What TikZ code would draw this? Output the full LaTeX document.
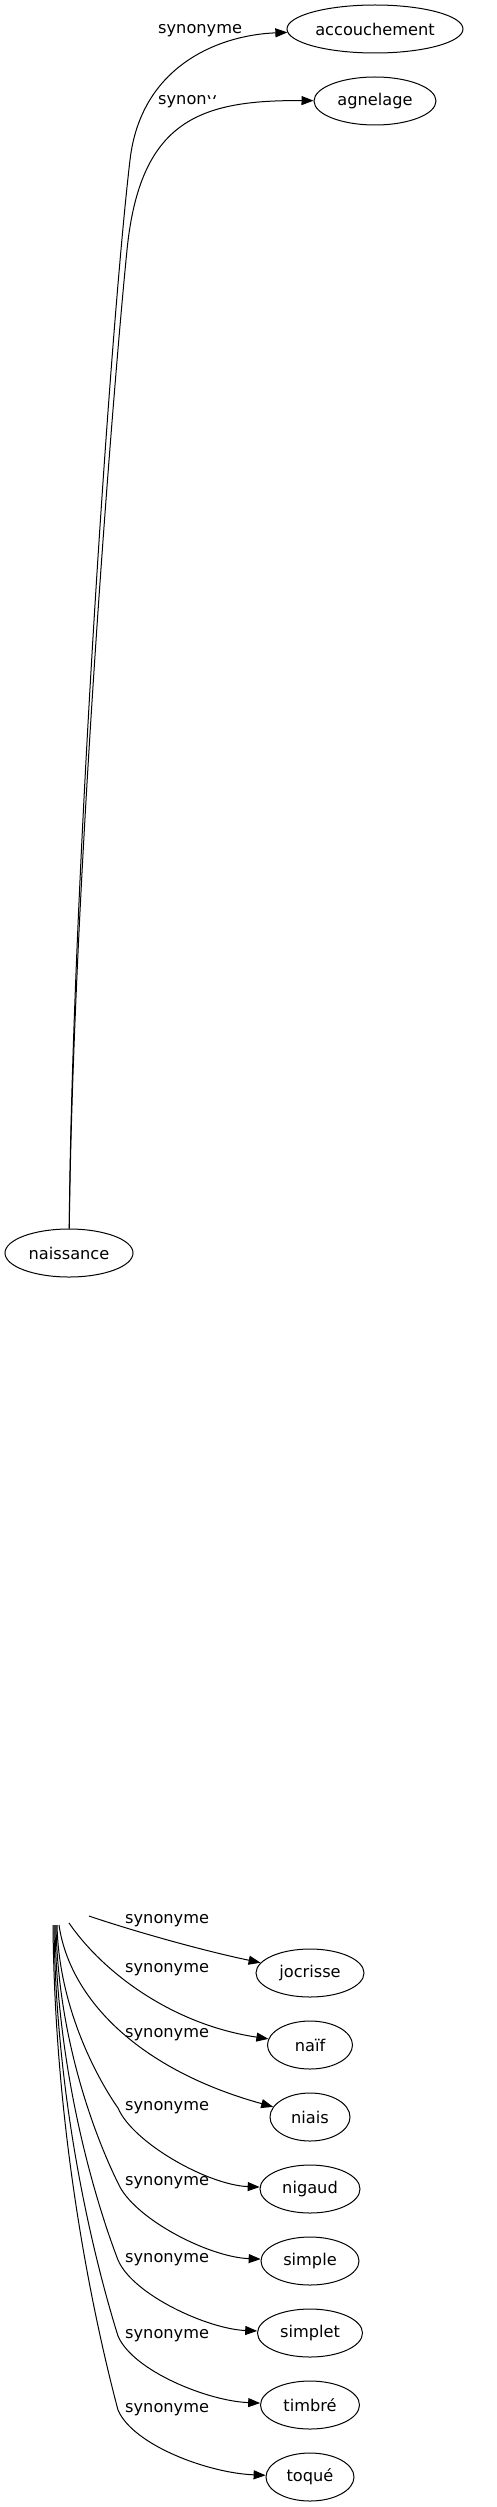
\documentclass[tikz,border=0pt]{standalone}
\usepackage{fontspec}
\setmainfont{DejaVu Sans}
\usetikzlibrary{shapes.geometric,arrows.meta,calc}
\tikzset{
  word/.style={draw, ellipse, line width=1pt, inner sep=0pt, minimum height=48,
    font=\fontsize{16.2}{19}\selectfont},
  lab/.style={inner sep=0pt, anchor=base west, font=\fontsize{16.2}{19}\selectfont},
  edge/.style={line width=1pt, -{Triangle[length=12pt,width=9pt]}},
}
\begin{document}
\begin{tikzpicture}[x=1pt,y=-1pt]
\useasboundingbox (0,0) rectangle (497,2507);
% upper graph
\node[word, minimum width=176] (acc) at (375,29) {accouchement};
\node[word, minimum width=122] (agn) at (375,101) {agnelage};
\node[word, minimum width=128] (nai) at (69,1253) {naissance};
\draw[edge] (nai) .. controls (72,900) and (110,330) .. (130,160)
  .. controls (141,65) and (220,35) .. (acc);
\draw[edge] (nai) .. controls (73,900) and (112,400) .. (127,250)
  .. controls (140,120) and (200,100) .. (agn);
\node[lab] (lacc) at (158,34) {synonyme};
\node[lab] (lagn) at (158,105) {synon};
\begin{scope}
  \clip ($(lagn.base east)+(-0.5,-12)$) rectangle ($(lagn.base east)+(10,-6.5)$);
  \node[lab] (lagny) at (lagn.base east) {y};
\end{scope}
% lower graph
\node[word, minimum width=108] (joc) at (310,1973) {jocrisse};
\node[word, minimum width=85] (naif) at (310,2045) {naïf};
\node[word, minimum width=80] (niais) at (310,2117) {niais};
\coordinate (sjoc) at (89,1916);
\coordinate (snaif) at (69,1923);
\coordinate (sniais) at (59,1925);
\draw[edge] (sjoc) .. controls (130,1930) and (200,1950) .. (joc);
\draw[edge] (snaif) .. controls (105,1975) and (175,2025) .. (naif);
\draw[edge] (sniais) .. controls (70,2000) and (140,2070) .. (niais);
\node[lab] (ljoc) at (125,1923) {synonyme};
\node[lab] (lnaif) at (125,1972) {synonyme};
\node[lab] (lniais) at (125,2037) {synonyme};
\foreach \n/\t/\ty/\w/\ly/\xs in {nigaud/nigaud/2189/100/2105/57,
    simple/simple/2261/98/2180/56, simplet/simplet/2333/105/2257/55,
    timbre/timbré/2405/99/2333/54, toque/toqué/2477/88/2407/53}{
  \pgfmathsetmacro\my{\ly+3}
  \pgfmathsetmacro\ca{1925+0.47*(\my-1925)}
  \pgfmathsetmacro\cb{\my-0.14*(\my-1925)}
  \node[word, minimum width=\w] (\n) at (310,\ty) {\t};
  \coordinate (s\n) at (\xs,1925);
  \coordinate (m\n) at (118,\my);
  \draw[edge] (s\n) .. controls (\xs+2,\ca) and (100,\cb) .. (m\n)
    .. controls (133,\my+35) and (208,\ty-4) .. (\n);
  \node[lab] (l\n) at (125,\ly+5) {synonyme};
}
\end{tikzpicture}
\end{document}
